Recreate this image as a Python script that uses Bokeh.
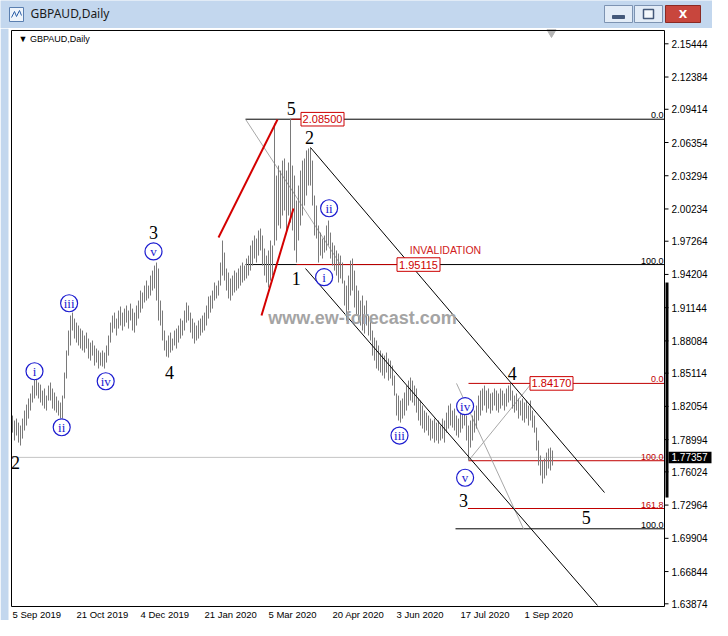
import pandas as pd
from bokeh.plotting import figure
from bokeh.models import Range1d
from bokeh.layouts import column
from bokeh.embed import file_html
from bokeh.resources import INLINE
from bokeh.core.properties import value

# ---------------- data (GBPAUD daily) ----------------
highs = [
    1.8121, 1.8075, 1.8093, 1.8056, 1.8029, 1.8093, 1.8167, 1.8222, 1.8278, 1.8324,
    1.8397, 1.8462, 1.8471, 1.8425, 1.8406, 1.8351, 1.8370, 1.8305, 1.8397, 1.8425,
    1.8370, 1.8333, 1.8296, 1.8259, 1.8241, 1.8305, 1.8517, 1.8720, 1.8904, 1.9042,
    1.9069, 1.9014, 1.8977, 1.8950, 1.8922, 1.8904, 1.8858, 1.8885, 1.8830, 1.8793,
    1.8812, 1.8766, 1.8738, 1.8720, 1.8701, 1.8720, 1.8701, 1.8766, 1.8858, 1.8977,
    1.9042, 1.9069, 1.9014, 1.9088, 1.9125, 1.9069, 1.9106, 1.9134, 1.9088, 1.9152,
    1.9106, 1.9069, 1.9134, 1.9180, 1.9272, 1.9254, 1.9318, 1.9364, 1.9318, 1.9410,
    1.9456, 1.9502, 1.9530, 1.9475, 1.9180, 1.9088, 1.8904, 1.8812, 1.8858, 1.8885,
    1.8830, 1.8904, 1.8922, 1.8950, 1.9014, 1.8996, 1.9088, 1.9162, 1.9134, 1.9069,
    1.9014, 1.8977, 1.8950, 1.8996, 1.9014, 1.9042, 1.9069, 1.9134, 1.9217, 1.9226,
    1.9272, 1.9346, 1.9318, 1.9364, 1.9530, 1.9733, 1.9622, 1.9475, 1.9438, 1.9383,
    1.9410, 1.9456, 1.9438, 1.9475, 1.9502, 1.9530, 1.9502, 1.9567, 1.9594, 1.9687,
    1.9733, 1.9779, 1.9751, 1.9825, 1.9843, 1.9779, 1.9659, 1.9594, 1.9641, 1.9733,
    1.9687, 2.0810, 2.0331, 2.0423, 2.0377, 2.0469, 2.0488, 2.0377, 2.0451, 2.0856,
    2.0423, 2.0331, 2.0101, 2.0239, 2.0377, 2.0469, 2.0488, 2.0562, 2.0580, 2.0589,
    2.0469, 2.0147, 2.0055, 1.9871, 1.9806, 1.9751, 1.9779, 1.9871, 1.9917, 1.9806,
    1.9714, 1.9687, 1.9641, 1.9613, 1.9594, 1.9530, 1.9364, 1.9318, 1.9410, 1.9548,
    1.9567, 1.9456, 1.9318, 1.9272, 1.9180, 1.9226, 1.9134, 1.9180, 1.9042, 1.9014,
    1.8904, 1.8839, 1.8812, 1.8766, 1.8720, 1.8692, 1.8673, 1.8701, 1.8646, 1.8627,
    1.8581, 1.8489, 1.8324, 1.8305, 1.8259, 1.8278, 1.8333, 1.8397, 1.8443, 1.8471,
    1.8443, 1.8397, 1.8370, 1.8278, 1.8259, 1.8213, 1.8167, 1.8148, 1.8121, 1.8093,
    1.8075, 1.8093, 1.8056, 1.8075, 1.8029, 1.8093, 1.8075, 1.8148, 1.8213, 1.8231,
    1.8167, 1.8185, 1.8121, 1.8093, 1.8148, 1.8185, 1.8213, 1.8121, 1.8029, 1.8075,
    1.8121, 1.8167, 1.8213, 1.8305, 1.8351, 1.8370, 1.8397, 1.8351, 1.8370, 1.8324,
    1.8333, 1.8370, 1.8351, 1.8324, 1.8370, 1.8351, 1.8324, 1.8370, 1.8397, 1.8416,
    1.8351, 1.8305, 1.8324, 1.8278, 1.8259, 1.8278, 1.8241, 1.8259, 1.8213, 1.8259,
    1.8167, 1.8121, 1.8010, 1.7891, 1.7753, 1.7707, 1.7725, 1.7780, 1.7817, 1.7826,
    1.7799,
]
lows = [
    1.7964, 1.7891, 1.7937, 1.7872, 1.7845, 1.7909, 1.7983, 1.8029, 1.8093, 1.8167,
    1.8241, 1.8278, 1.8305, 1.8278, 1.8241, 1.8213, 1.8185, 1.8167, 1.8259, 1.8259,
    1.8185, 1.8167, 1.8148, 1.8121, 1.8093, 1.8093, 1.8278, 1.8462, 1.8673, 1.8766,
    1.8904, 1.8830, 1.8793, 1.8766, 1.8738, 1.8720, 1.8701, 1.8738, 1.8646, 1.8627,
    1.8673, 1.8581, 1.8609, 1.8554, 1.8581, 1.8572, 1.8554, 1.8609, 1.8673, 1.8793,
    1.8885, 1.8922, 1.8858, 1.8922, 1.8950, 1.8904, 1.8941, 1.8977, 1.8922, 1.8996,
    1.8904, 1.8885, 1.8950, 1.9014, 1.9069, 1.9106, 1.9162, 1.9180, 1.9199, 1.9226,
    1.9272, 1.9291, 1.9180, 1.8996, 1.8950, 1.8812, 1.8720, 1.8664, 1.8655, 1.8701,
    1.8720, 1.8766, 1.8738, 1.8793, 1.8830, 1.8858, 1.8904, 1.8977, 1.8996, 1.8885,
    1.8830, 1.8784, 1.8812, 1.8830, 1.8858, 1.8885, 1.8904, 1.8950, 1.9014, 1.9069,
    1.9106, 1.9180, 1.9199, 1.9226, 1.9318, 1.9410, 1.9364, 1.9272, 1.9199, 1.9180,
    1.9226, 1.9254, 1.9272, 1.9291, 1.9318, 1.9346, 1.9364, 1.9383, 1.9410, 1.9456,
    1.9502, 1.9567, 1.9530, 1.9594, 1.9641, 1.9502, 1.9410, 1.9346, 1.9300, 1.9364,
    1.9410, 1.9687, 1.9733, 1.9871, 1.9843, 1.9963, 2.0009, 1.9825, 1.9963, 1.9898,
    1.9825, 1.9641, 1.9530, 1.9733, 1.9871, 1.9963, 2.0055, 2.0147, 2.0239, 2.0239,
    2.0055, 1.9779, 1.9751, 1.9530, 1.9594, 1.9567, 1.9622, 1.9641, 1.9687, 1.9567,
    1.9502, 1.9456, 1.9410, 1.9346, 1.9383, 1.9337, 1.9134, 1.8996, 1.9088, 1.9226,
    1.9272, 1.9116, 1.9042, 1.8996, 1.8950, 1.8904, 1.8876, 1.8950, 1.8858, 1.8812,
    1.8673, 1.8627, 1.8554, 1.8535, 1.8517, 1.8489, 1.8462, 1.8517, 1.8443, 1.8462,
    1.8397, 1.8305, 1.8121, 1.8075, 1.8056, 1.8093, 1.8121, 1.8167, 1.8213, 1.8259,
    1.8241, 1.8213, 1.8148, 1.8075, 1.8029, 1.8001, 1.7964, 1.7983, 1.7937, 1.7891,
    1.7909, 1.7872, 1.7891, 1.7863, 1.7891, 1.7909, 1.7872, 1.7964, 1.8001, 1.8029,
    1.8010, 1.7983, 1.7937, 1.7918, 1.7964, 1.8001, 1.8029, 1.7891, 1.7707, 1.7826,
    1.7891, 1.7964, 1.8001, 1.8075, 1.8121, 1.8167, 1.8213, 1.8148, 1.8185, 1.8139,
    1.8167, 1.8213, 1.8167, 1.8148, 1.8185, 1.8213, 1.8167, 1.8204, 1.8241, 1.8259,
    1.8185, 1.8148, 1.8167, 1.8093, 1.8121, 1.8075, 1.8056, 1.8093, 1.8029, 1.8075,
    1.8010, 1.7964, 1.7799, 1.7661, 1.7569, 1.7495, 1.7541, 1.7569, 1.7633, 1.7615,
    1.7661,
]
last_price = 1.77357

price_ticks = [2.15444, 2.12384, 2.09414, 2.06354, 2.03294, 2.00234, 1.97264, 1.94204,
               1.91144, 1.88084, 1.85114, 1.82054, 1.78994, 1.76024, 1.72964, 1.69904,
               1.66844, 1.63874]
tick_dates = ["2019-09-05", "2019-10-21", "2019-12-04", "2020-01-21", "2020-03-05",
              "2020-04-20", "2020-06-03", "2020-07-17", "2020-09-01"]
tick_labels = ["5 Sep 2019", "21 Oct 2019", "4 Dec 2019", "21 Jan 2020", "5 Mar 2020",
               "20 Apr 2020", "3 Jun 2020", "17 Jul 2020", "1 Sep 2020"]

# Elliott wave annotations (bar index, price, text)
wave_x = [139.4, 148.5, 141.9, 70.5, 78.5, 249.9, 225.5, 286.9, 1.5]
wave_y = [2.0946, 2.0684, 1.9386, 1.9807, 1.8514, 1.8511, 1.7338, 1.7185, 1.7691]
wave_t = ["5", "2", "1", "3", "4", "4", "3", "5", "2"]

sub_x = [11.0, 24.6, 28.3, 46.6, 70.5, 155.8, 158.3, 193.5, 226.3, 226.3]
sub_y = [1.8529, 1.8013, 1.9155, 1.8437, 1.9632, 1.9395, 2.0030, 1.7937, 1.8207, 1.7548]
sub_t = ["i", "ii", "iii", "iv", "v", "i", "ii", "iii", "iv", "v"]

# Fibonacci levels
fib_level = [2.0850, 1.95115, 1.8417, 1.7705, 1.7265, 1.7078]
fib_start = [116.5, 116.5, 228.0, 228.0, 227.7, 221.5]
fib_text = ["0.0", "100.0", "0.0", "100.0", "161.8", "100.0"]
fib_color = ["black", "black", "#c00000", "#c00000", "#c00000", "black"]

# ---------------- layout constants ----------------
W = 712
X0, X1 = -6.0, 350.0          # bar-index range of the whole canvas (2 px per bar)
Y0, Y1 = 1.62336, 2.16853      # price range of the canvas below the title bar
BL, BR = -0.5, 326.0           # chart box left/right (bar index)
BB, BT = 1.63625, 2.1667       # chart box bottom/top (price)
BLUE = "#1c1cd0"
RED = "#cc0000"
AXFONT = "Liberation Sans"
FRAME_BLUE = "#c3d7ee"

n = min(len(highs), len(lows))
idx = list(range(n))
dates = pd.bdate_range("2019-09-05", periods=n, freq="C",
                       holidays=["2019-12-25", "2020-01-01"])
tick_idx = [int(dates.get_loc(pd.Timestamp(d))) for d in tick_dates]

# ---------------- title bar ----------------
tb = figure(width=W, height=28, x_range=Range1d(0, W), y_range=Range1d(0, 28),
            toolbar_location=None, output_backend="svg",
            x_axis_location=None, y_axis_location=None, min_border=0,
            outline_line_color=None, background_fill_color=FRAME_BLUE,
            border_fill_color=FRAME_BLUE)
tb.xgrid.visible = False
tb.ygrid.visible = False
tb.quad(left=[9], right=[23], bottom=[7], top=[21], fill_color="#eef4fb", line_color="#5a7fb0")
tb.line(x=[11, 14, 16, 19, 21], y=[11, 17, 12, 18, 13], line_color="#2b5fa8", line_width=1)
tb.text(x=[30], y=[15], text=["GBPAUD,Daily"], text_font=value("Noto Sans"),
        text_font_size="12px", text_baseline="middle", text_color="#1a1a1a")
tb.quad(left=[604, 634], right=[632, 662], bottom=[6, 6], top=[23, 23],
        fill_color="#e3ecf7", line_color="#7d93b2")
tb.quad(left=[665], right=[700], bottom=[6], top=[23], fill_color="#c8463d", line_color="#8a2a24")
tb.quad(left=[612], right=[624], bottom=[10], top=[13], fill_color="#44597a", line_color="#44597a")
tb.quad(left=[643], right=[653], bottom=[10], top=[19], fill_color="#f4f8fc", line_color="#44597a", line_width=1.5)
tb.text(x=[682.5], y=[14.5], text=["X"], text_font=value("DejaVu Sans"), text_font_style="bold",
        text_font_size="11px", text_align="center", text_baseline="middle", text_color="white")

# ---------------- chart canvas ----------------
p = figure(width=W, height=592, x_range=Range1d(X0, X1), y_range=Range1d(Y0, Y1),
           toolbar_location=None, output_backend="svg",
           x_axis_location=None, y_axis_location=None, min_border=0,
           background_fill_color="white", border_fill_color="white",
           outline_line_color=None)
p.xgrid.visible = False
p.ygrid.visible = False

# window border strip on the left
p.quad(left=[X0], right=[-2.0], bottom=[Y0], top=[Y1], fill_color=FRAME_BLUE, line_color=None)

# current price line
p.segment(x0=[BL], y0=[last_price], x1=[BR], y1=[last_price], line_color="#c4c4c4", line_width=1)

# fibonacci lines
p.segment(x0=fib_start, y0=fib_level, x1=[BR] * len(fib_level), y1=fib_level,
          line_color=fib_color, line_width=1)
p.segment(x0=[139.4, 142.0], y0=[2.0850, 1.95115], x1=[145.0, 193.0], y1=[2.0850, 1.95115],
          line_color="#c00000", line_width=1)
p.segment(x0=[116.5, 228.0, 222.0], y0=[2.0850, 1.7705, 1.8417],
          x1=[164.0, 259.5, 255.5], y1=[1.95115, 1.8417, 1.7078],
          line_color="#a8a8a8", line_width=1)

# price bars
p.segment(x0=idx, y0=lows[:n], x1=idx, y1=highs[:n], line_color="#7a7a7a", line_width=1)

# red wedge lines
p.segment(x0=[103.0, 124.5], y0=[1.9760, 1.9042], x1=[132.5, 140.5], y1=[2.0847, 2.0028],
          line_color="#d40000", line_width=2)
# black channel lines
p.segment(x0=[149.0, 146.5], y0=[2.0589, 1.9475], x1=[296.0, 292.5], y1=[1.7412, 1.6372],
          line_color="black", line_width=1)

# fib labels at right end of their lines
p.text(x=[BR - 0.5] * len(fib_level), y=fib_level, text=fib_text, text_color=fib_color,
       text_align="right", text_baseline="bottom", y_offset=-1,
       text_font=value(AXFONT), text_font_size="9px")

# price boxes
box_x = [155.0, 203.0, 269.5]
box_y = [2.0850, 1.95115, 1.8417]
box_t = ["2.08500", "1.95115", "1.84170"]
p.rect(x=box_x, y=box_y, width=21.5, height=0.0125, fill_color="white", line_color=RED)
p.text(x=box_x, y=box_y, text=box_t, text_align="center", text_baseline="middle",
       text_font=value(AXFONT), text_font_size="11px", text_color=RED)

p.text(x=[216.5], y=[1.9650], text=["INVALIDATION"], text_align="center", text_baseline="middle",
       text_font=value(AXFONT), text_font_size="10.5px", text_color="#d02020")

# watermark
p.text(x=[175.0], y=[1.9015], text=["www.ew-forecast.com"], text_align="center",
       text_baseline="middle", text_font=value(AXFONT), text_font_size="18px",
       text_font_style="bold", text_color="#a4a4a4")

# wave labels
p.text(x=wave_x, y=wave_y, text=wave_t, text_align="center", text_baseline="middle",
       text_font=value("Liberation Serif"), text_font_size="18px", text_color="black")
p.scatter(x=sub_x, y=sub_y, size=17, marker="circle", fill_color="white",
          line_color=BLUE, line_width=1.2)
p.text(x=sub_x, y=sub_y, text=sub_t, text_align="center", text_baseline="middle",
       text_font=value("Liberation Serif"), text_font_size="13px", text_color=BLUE)

# chart caption + shift marker
p.text(x=[3.0], y=[2.1593], text=["\u25bc GBPAUD,Daily"], text_baseline="middle",
       text_font=value(AXFONT), text_font_size="9px", text_color="black")
p.scatter(x=[269.5], y=[2.1650], marker="inverted_triangle", size=9,
          fill_color="#b4b4b4", line_color="#b4b4b4")

# chart box
p.quad(left=[BL], right=[BR], bottom=[BB], top=[BT], fill_color=None,
       line_color="black", line_width=1)

# price scale (right)
p.quad(left=[BR + 0.5], right=[BR + 2.0], bottom=[1.7366], top=[1.9346],
       fill_color="black", line_color=None)
p.segment(x0=[BR] * len(price_ticks), y0=price_ticks, x1=[BR + 2.0] * len(price_ticks),
          y1=price_ticks, line_color="black", line_width=1)
p.text(x=[BR + 3.5] * len(price_ticks), y=price_ticks, text=[f"{v:.5f}" for v in price_ticks],
       text_align="left", text_baseline="middle", text_font=value(AXFONT),
       text_font_size="10px", text_color="black")
p.quad(left=[BR + 2.0], right=[BR + 23.5], bottom=[last_price - 0.0053],
       top=[last_price + 0.0053], fill_color="black", line_color=None)
p.text(x=[BR + 3.5], y=[last_price], text=[f"{last_price:.5f}"], text_align="left",
       text_baseline="middle", text_font=value(AXFONT), text_font_size="10px",
       text_color="white")

# time scale (bottom)
p.text(x=tick_idx, y=[1.62888] * len(tick_idx), text=tick_labels, text_align="left",
       text_baseline="middle", text_font=value(AXFONT), text_font_size="9.5px",
       text_color="black")

layout = column(tb, p, spacing=0)
open("out.html", "w").write(file_html(layout, INLINE))
